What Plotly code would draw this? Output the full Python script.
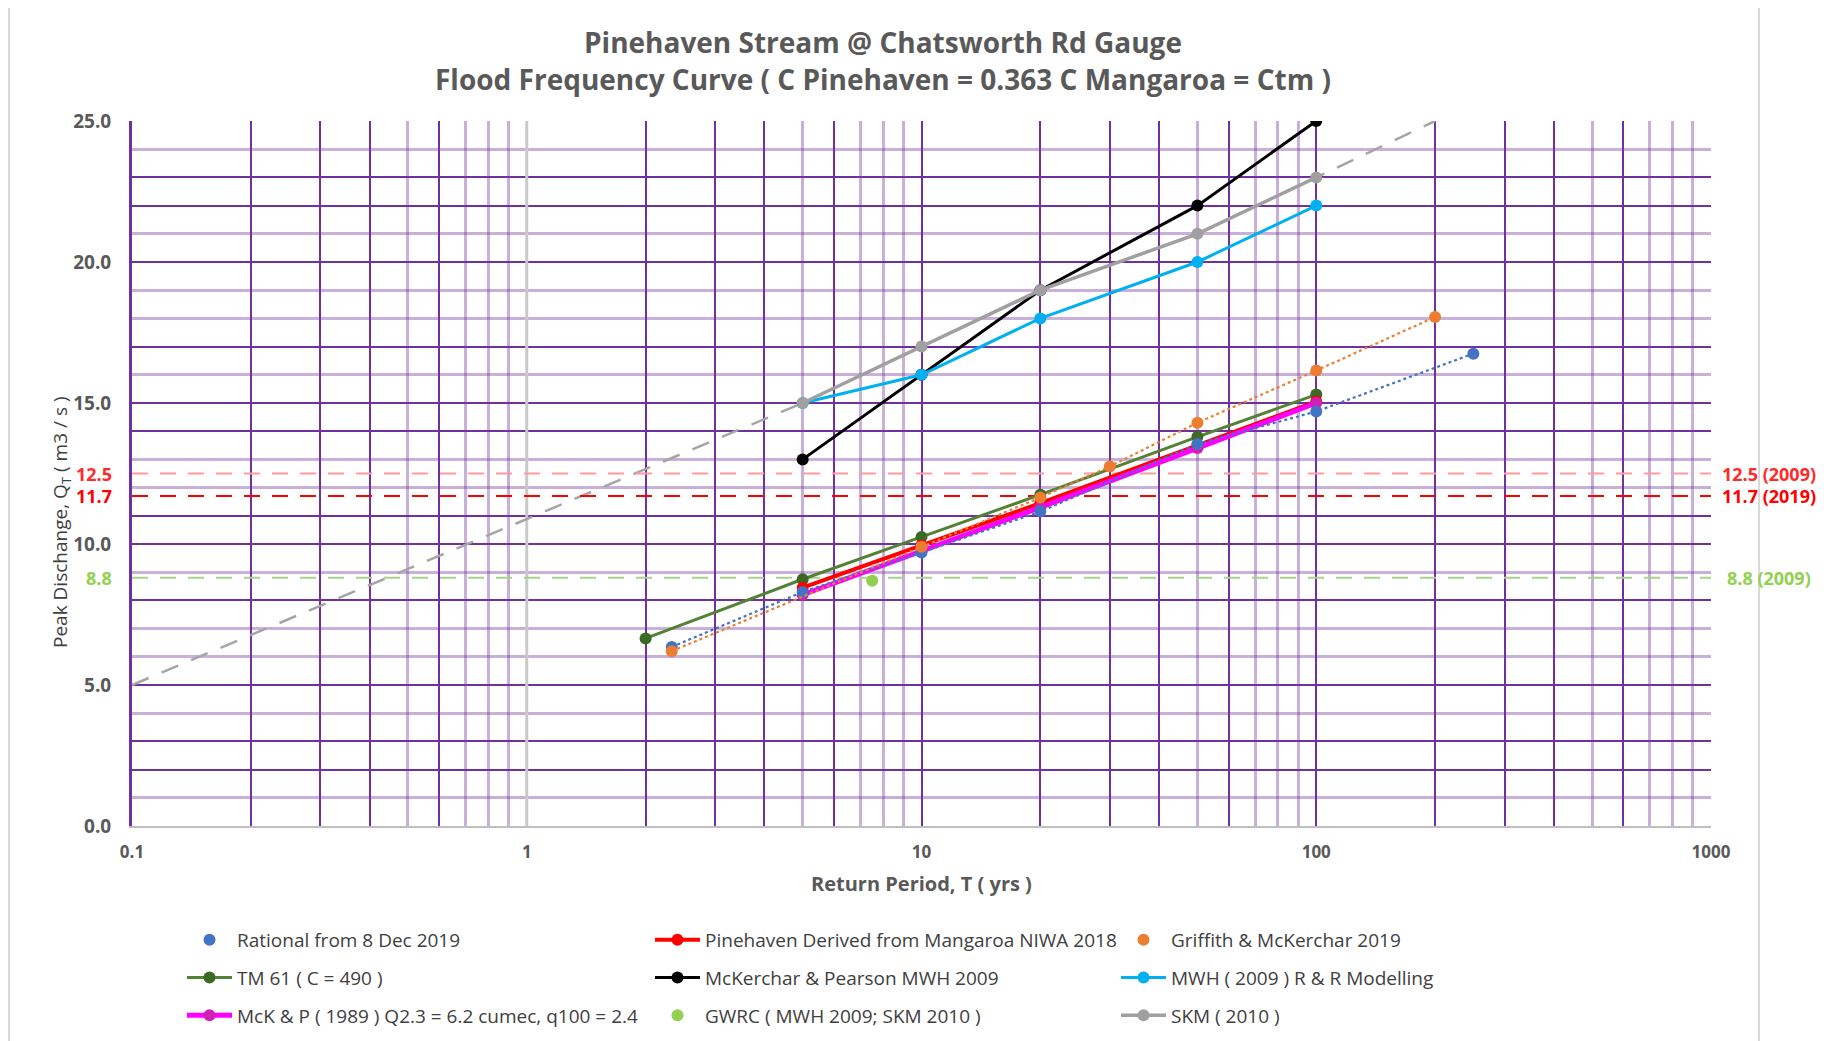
import plotly.graph_objects as go

# ---------------- data ----------------
rational_T = [2.33, 5, 10, 20, 50, 100, 250]
rational_Q = [6.35, 8.3, 9.7, 11.15, 13.55, 14.7, 16.75]

pinehaven_T = [5, 10, 20, 50, 100]
pinehaven_Q = [8.45, 9.95, 11.45, 13.5, 15.05]

griffith_T = [2.33, 10, 20, 30, 50, 100, 200]
griffith_Q = [6.2, 9.9, 11.65, 12.75, 14.3, 16.15, 18.05]

tm61_T = [2, 5, 10, 20, 50, 100]
tm61_Q = [6.65, 8.75, 10.25, 11.75, 13.8, 15.3]

mckp2009_T = [5, 10, 20, 50, 100]
mckp2009_Q = [13, 16, 19, 22, 25]

mwh_T = [5, 10, 20, 50, 100]
mwh_Q = [15, 16, 18, 20, 22]

mckp1989_T = [5, 10, 20, 50, 100]
mckp1989_Q = [8.2, 9.75, 11.3, 13.4, 15.0]

gwrc_T = [7.5]
gwrc_Q = [8.7]

skm_T = [5, 10, 20, 50, 100]
skm_Q = [15, 17, 19, 21, 23]

skm_ext_T = [0.1, 5, 10, 20, 50, 100, 200]
skm_ext_Q = [5, 15, 17, 19, 21, 23, 25]

t1_line_T = [1, 1]
t1_line_Q = [0, 25]

ref_levels = [12.5, 11.7, 8.8]
ref_left_labels = ["12.5", "11.7", "8.8"]
ref_right_labels = ["12.5 (2009)", "11.7 (2019)", "8.8 (2009)"]
ref_span_T = [0.1, 1000]

x_decades = [0.1, 1, 10, 100, 1000]
x_decade_labels = ["0.1", "1", "10", "100", "1000"]
y_label_vals = [0, 5, 10, 15, 20, 25]
y_label_text = ["0.0", "5.0", "10.0", "15.0", "20.0", "25.0"]

# ---------------- style ----------------
PURPLE = "#7030A0"
PURPLE_LIGHT = "rgba(112,48,160,0.38)"
TXT = "#595959"
FONT = "Open Sans"

x_dark, x_light = [], []
for d in [0.1, 1, 10, 100]:
    for m in range(1, 10):
        v = round(m * d, 6)
        (x_dark if m in (1, 2, 3, 4, 6) else x_light).append(v)
x_dark.append(1000)
x_ticktext = [x_decade_labels[x_decades.index(v)] if v in x_decades else " " for v in x_dark]

y_dark_set = [0, 2, 3, 5, 8, 10, 11, 14, 15, 17, 20, 22, 23, 25]
y_light_set = [v for v in range(0, 26) if v not in y_dark_set]
y_ticktext = [y_label_text[y_label_vals.index(v)] if v in y_label_vals else " " for v in y_dark_set]

fig = go.Figure()

fig.add_trace(go.Scatter(x=t1_line_T, y=t1_line_Q, mode="lines",
                         line=dict(color="#C9C9C9", width=3), showlegend=False, hoverinfo="skip"))
fig.add_trace(go.Scatter(x=skm_ext_T, y=skm_ext_Q, mode="lines",
                         line=dict(color="#A5A5A5", width=2.5, dash="18px,14px"),
                         showlegend=False, hoverinfo="skip"))
ref_colors = ["#FF9B9B", "#FF0000", "#A9D18E"]
for lvl, c in zip(ref_levels, ref_colors):
    fig.add_trace(go.Scatter(x=ref_span_T, y=[lvl, lvl], mode="lines",
                             line=dict(color=c, width=2, dash="16px,12px"),
                             showlegend=False, hoverinfo="skip"))

MS = 12


def add(name, T, Q, mode, color, legend, rank, width=3, mcolor=None):
    fig.add_trace(go.Scatter(
        x=T, y=Q, name=name, mode=mode,
        line=dict(color=color, width=width),
        marker=dict(color=mcolor or color, size=MS),
        legend=legend, legendrank=rank, legendgroup=name))


def add_dotted(name, T, Q, color, legend, rank):
    fig.add_trace(go.Scatter(x=T, y=Q, mode="lines", line=dict(color=color, width=2.2, dash="dot"),
                             showlegend=False, hoverinfo="skip", legendgroup=name, legend=legend))
    fig.add_trace(go.Scatter(x=T, y=Q, name=name, mode="markers", marker=dict(color=color, size=MS),
                             legend=legend, legendrank=rank, legendgroup=name))


add("TM 61 ( C = 490 )", tm61_T, tm61_Q, "lines+markers", "#548235", "legend", 2, mcolor="#3B6A24")
add("Pinehaven Derived from Mangaroa NIWA 2018", pinehaven_T, pinehaven_Q, "lines+markers", "#FF0000", "legend2", 1, width=4)
add("McK & P ( 1989 ) Q2.3 = 6.2 cumec, q100 = 2.4", mckp1989_T, mckp1989_Q, "lines+markers", "#FF00FF", "legend", 3, width=5, mcolor="#D21FB4")
add_dotted("Rational from 8 Dec 2019", rational_T, rational_Q, "#4472C4", "legend", 1)
add_dotted("Griffith & McKerchar 2019", griffith_T, griffith_Q, "#ED7D31", "legend3", 1)
add("GWRC ( MWH 2009; SKM 2010 )", gwrc_T, gwrc_Q, "markers", "#92D050", "legend2", 3)
add("McKerchar & Pearson MWH 2009", mckp2009_T, mckp2009_Q, "lines+markers", "#000000", "legend2", 2)
add("MWH ( 2009 ) R & R Modelling", mwh_T, mwh_Q, "lines+markers", "#00B0F0", "legend3", 2)
add("SKM ( 2010 )", skm_T, skm_Q, "lines+markers", "#A0A0A0", "legend3", 3, width=3.5)

# geometry: page pixels (target) -> figure (page has an 8px body margin)
OFF = 8
W, H = 1827 - OFF, 1041 - OFF
PL, PR, PT, PB = 132, 1711, 121, 826          # plot area in page pixels
L, T = PL - OFF, PT - OFF
R, B = W - (PR - OFF), H - (PB - OFF)
PW, PH = PR - PL, PB - PT


def px(X):
    return (X - PL) / PW


def py(Y):
    return (PB - Y) / PH


leg_common = dict(orientation="v", xanchor="left", yanchor="top", bgcolor="rgba(0,0,0,0)",
                  font=dict(family=FONT, size=19, color="#404040"), tracegroupgap=10,
                  itemwidth=45, itemclick=False, itemdoubleclick=False)

fig.update_layout(
    width=W, height=H,
    margin=dict(l=L, r=R, t=T, b=B, autoexpand=False),
    paper_bgcolor="white", plot_bgcolor="white",
    font=dict(family=FONT, color=TXT),
    legend=dict(x=px(182), y=py(921), **leg_common),
    legend2=dict(x=px(650), y=py(921), **leg_common),
    legend3=dict(x=px(1116), y=py(921), **leg_common),
    xaxis=dict(type="log", range=[-1, 3], tickmode="array", tickvals=x_dark, ticktext=x_ticktext,
               showgrid=True, gridcolor=PURPLE, gridwidth=2,
               minor=dict(tickmode="array", tickvals=x_light, showgrid=True,
                          gridcolor=PURPLE_LIGHT, gridwidth=3),
               ticks="", ticklabelstandoff=10, zeroline=False,
               showline=True, linecolor="#BFBFBF", linewidth=2,
               tickfont=dict(family=FONT, size=17, color=TXT, weight="bold")),
    yaxis=dict(range=[0, 25], tickmode="array", tickvals=y_dark_set, ticktext=y_ticktext,
               showgrid=True, gridcolor=PURPLE, gridwidth=2,
               minor=dict(tickmode="array", tickvals=y_light_set, showgrid=True,
                          gridcolor=PURPLE_LIGHT, gridwidth=3),
               ticks="", ticklabelstandoff=14, zeroline=False,
               showline=True, linecolor=PURPLE, linewidth=3,
               tickfont=dict(family=FONT, size=19, color=TXT, weight="bold")),
    shapes=[dict(type="rect", xref="paper", yref="paper", x0=px(9), x1=px(1759),
                 y0=py(1100), y1=py(6), line=dict(color="#D9D9D9", width=2), layer="below")],
)

ann = []
ann.append(dict(text="<b>Pinehaven Stream @ Chatsworth Rd Gauge</b>", x=px(883), y=py(42),
                xref="paper", yref="paper", showarrow=False, xanchor="center", yanchor="middle",
                font=dict(family=FONT, size=28, color=TXT)))
ann.append(dict(text="<b>Flood Frequency Curve ( C Pinehaven = 0.363 C Mangaroa = Ctm )</b>",
                x=px(883), y=py(79), xref="paper", yref="paper", showarrow=False,
                xanchor="center", yanchor="middle", font=dict(family=FONT, size=28, color=TXT)))
ann.append(dict(text="<b>Return Period, T ( yrs )</b>", x=px(921), y=py(884), xref="paper", yref="paper",
                showarrow=False, xanchor="center", yanchor="middle",
                font=dict(family=FONT, size=20, color=TXT)))
ann.append(dict(text="Peak Dischange, Q<sub>T</sub> ( m3 / s )", x=px(61), y=py(522), xref="paper",
                yref="paper", showarrow=False, textangle=-90, xanchor="center", yanchor="middle",
                font=dict(family=FONT, size=19, color="#404040")))
left_colors = ["#FF2B2B", "#FF0000", "#92D050"]
for lvl, lt, rt, c in zip(ref_levels, ref_left_labels, ref_right_labels, left_colors):
    ann.append(dict(text="<b>" + lt + "</b>", x=px(114), y=lvl, xref="paper", yref="y", showarrow=False,
                    xanchor="right", yanchor="middle", font=dict(family=FONT, size=18, color=c)))
    ann.append(dict(text="<b>" + rt + "</b>", x=px(1769), y=lvl, xref="paper", yref="y", showarrow=False,
                    xanchor="center", yanchor="middle", font=dict(family=FONT, size=18, color=c)))
fig.update_layout(annotations=ann)

fig.write_html("out.html")
